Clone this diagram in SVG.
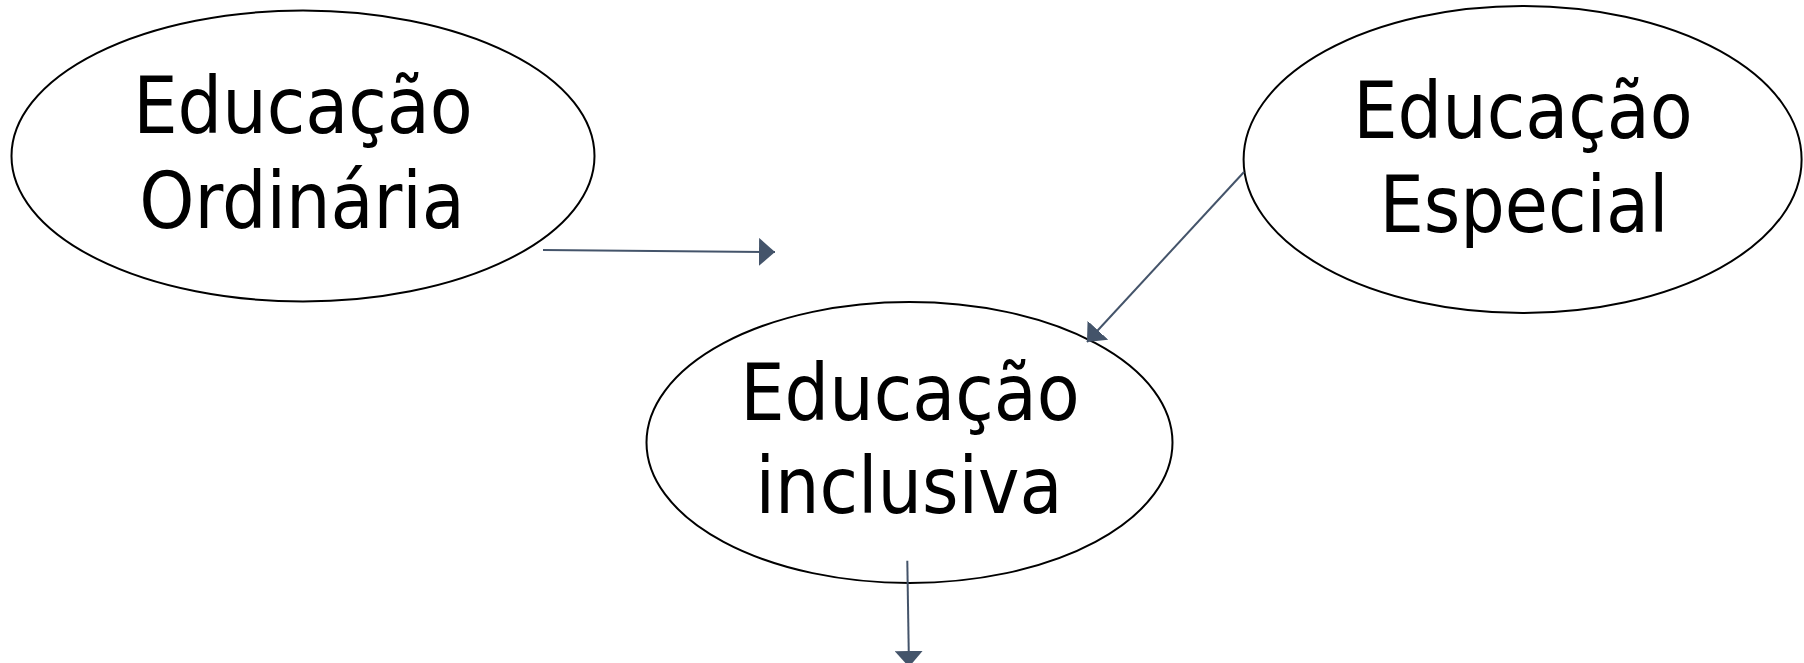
<svg xmlns="http://www.w3.org/2000/svg" width="1804" height="663" viewBox="0 0 1804 663">
<style>
.node ellipse{fill:#fff;stroke:#000;stroke-width:2}
.node text{font-family:"DejaVu Sans Condensed","DejaVu Sans",sans-serif;font-stretch:condensed;font-size:78px;fill:#000;text-anchor:middle}
.conn line{stroke:#44546A;stroke-width:2}
</style>
<defs>
<marker id="arr" markerUnits="userSpaceOnUse" markerWidth="17" markerHeight="28" refX="16" refY="14" orient="auto">
<path d="M0,0 L16,14 L0,28 Z" fill="#44546A"/>
</marker>
</defs>
<rect width="1804" height="663" fill="#fff"/>
<g id="n-ordinaria" class="node">
<ellipse cx="303" cy="156" rx="291.5" ry="145.5"/>
<text x="303" y="133">Educação</text>
<text x="302" y="228">Ordinária</text>
</g>
<g id="n-especial" class="node">
<ellipse cx="1522.6" cy="159.5" rx="279" ry="153.5"/>
<text x="1523" y="138">Educação</text>
<text x="1524" y="232">Especial</text>
</g>
<g id="n-inclusiva" class="node">
<ellipse cx="909.5" cy="442.5" rx="263" ry="140.5"/>
<text x="910" y="420">Educação</text>
<text x="909" y="513">inclusiva</text>
</g>
<g id="connectors" class="conn">
<line x1="543" y1="250" x2="775" y2="252" marker-end="url(#arr)"/>
<line x1="1244" y1="172" x2="1087" y2="342" marker-end="url(#arr)"/>
<line x1="907.3" y1="560.7" x2="909" y2="667" marker-end="url(#arr)"/>
</g>
</svg>
